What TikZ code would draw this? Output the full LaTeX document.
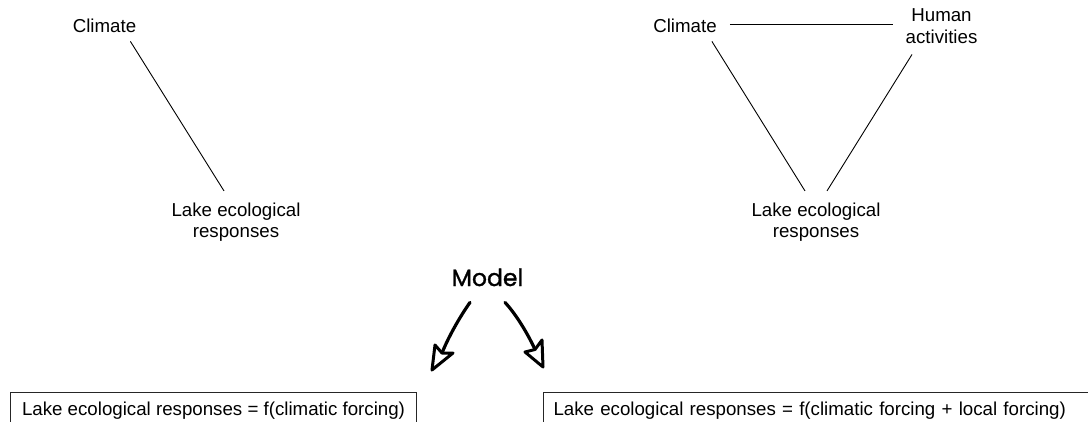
\documentclass[tikz,border=0pt]{standalone}
\usepackage{fontspec}
\setmainfont{Liberation Sans}
\newfontfamily\modelfont{Poppins}[FakeBold=1.3]
\usetikzlibrary{calc}
\tikzset{
  lbl/.style={inner sep=0pt, align=center, font=\fontsize{18.7}{21.5}\selectfont},
  link/.style={draw=black, line width=0.9pt},
  eqbox/.style={draw=black!85, line width=1pt, anchor=north west, inner xsep=11.5pt, inner ysep=9.4pt,
     font=\fontsize{18.7}{21.5}\selectfont},
  handshaft/.style={draw=black, line width=3.2pt, line cap=round},
  handhead/.style={draw=black, line width=3pt, line join=round, fill=white}
}
\begin{document}
\begin{tikzpicture}[x=1pt,y=-1pt]
\useasboundingbox (0,0) rectangle (1088,421);
\clip (0,0) rectangle (1088,421);
% left diagram
\node[lbl, anchor=base] (climL) at (104.5,32) {Climate};
\node[lbl] (lakeL) at (236,222) {Lake ecological\\responses};
\draw[link] ($(climL.south east)+(-6,9)$) -- ($(lakeL.north)+(-12,-11.4)$);
% right diagram
\node[lbl, anchor=base] (climR) at (685,32) {Climate};
\node[lbl] (humR) at (941.5,26) {Human\\activities};
\node[lbl] (lakeR) at (816,222) {Lake ecological\\responses};
\draw[link] ($(climR.east)+(13,-1)$) -- ($(climR.east -| humR.west)+(-12,-1)$);
\draw[link] ($(climR.south east)+(-5,9)$) -- ($(lakeR.north)+(-11,-11.4)$);
\draw[link] ($(lakeR.north)+(11,-11.4)$) -- ($(humR.south)+(-29.5,11)$);
% model
\node[inner sep=0pt, anchor=base, font=\modelfont\fontsize{23.5}{27}\selectfont] (model) at (487.5,286) {Model};
\coordinate (notchL) at (442,353);
\coordinate (notchR) at (535,349.5);
\draw[handshaft] ($(model.south)+(-17.5,16)$) .. controls (459,318) and (448,338) .. (notchL);
\draw[handshaft] ($(model.south)+(17.5,16)$) .. controls (514,312) and (526,330) .. (notchR);
\draw[handhead] (435,345) -- (432,370) -- (453,353) -- (notchL) -- cycle;
\draw[handhead] (542,340) -- (543,367) -- (525,352) -- (notchR) -- cycle;
% equation boxes
\node[eqbox] (eqL) at (10,392) {Lake ecological responses = f(climatic forcing)};
\node[eqbox, inner xsep=10pt, text width=600pt, align=left] (eqR) at (543,392) {Lake ecological responses = f(climatic forcing + local forcing)};
\end{tikzpicture}
\end{document}
